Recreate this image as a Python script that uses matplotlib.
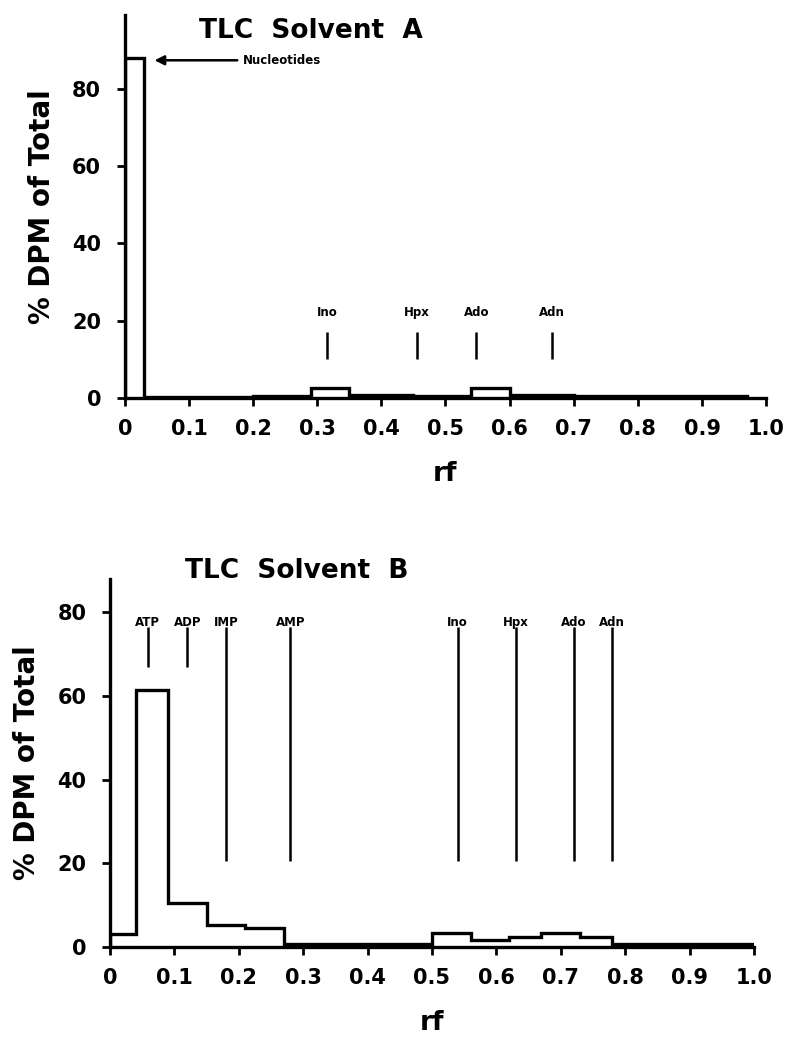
import numpy as np
import matplotlib
matplotlib.use("Agg")
import matplotlib.pyplot as plt

plt.rcParams['font.family'] = ['DejaVu Sans']
plt.rcParams['font.weight'] = 'bold'

# Solvent A histogram (rf bins, % DPM)
edges_a = [0, 0.03, 0.1, 0.2, 0.29, 0.35, 0.45, 0.54, 0.6, 0.7, 0.8, 0.9, 0.97]
dpm_a = [88, 0.3, 0.3, 0.6, 2.6, 0.7, 0.5, 2.6, 0.8, 0.5, 0.5, 0.5]
marks_a = ["Ino", "Hpx", "Ado", "Adn"]
marks_a_rf = [0.315, 0.456, 0.548, 0.666]

# Solvent B histogram
edges_b = [0, 0.04, 0.09, 0.15, 0.21, 0.27, 0.4, 0.5, 0.56, 0.62, 0.67, 0.73, 0.78, 0.9, 1.0]
dpm_b = [3.2, 61.5, 10.5, 5.3, 4.5, 0.6, 0.8, 3.3, 1.7, 2.3, 3.3, 2.4, 0.8, 0.7]
marks_b = ["ATP", "ADP", "IMP", "AMP", "Ino", "Hpx", "Ado", "Adn"]
marks_b_rf = [0.059, 0.12, 0.18, 0.28, 0.54, 0.63, 0.72, 0.78]
marks_b_low = [67, 67, 20.5, 20.5, 20.5, 20.5, 20.5, 20.5]

xticks = [0, 0.1, 0.2, 0.3, 0.4, 0.5, 0.6, 0.7, 0.8, 0.9, 1.0]
xticklabels = ["0", "0.1", "0.2", "0.3", "0.4", "0.5", "0.6", "0.7", "0.8", "0.9", "1.0"]
yticks = [0, 20, 40, 60, 80]

fig = plt.figure(figsize=(7.85, 10.59), dpi=100)
ax1 = fig.add_axes([0.159, 0.6242, 0.817, 0.3616])
ax2 = fig.add_axes([0.140, 0.1058, 0.8205, 0.3475])


def style(ax, ytop):
    ax.set_xlim(0, 1.0)
    ax.set_ylim(0, ytop)
    for s in ['top', 'right']:
        ax.spines[s].set_visible(False)
    for s in ['left', 'bottom']:
        ax.spines[s].set_linewidth(2.4)
    ax.set_xticks(xticks)
    ax.set_xticklabels(xticklabels)
    ax.set_yticks(yticks)
    ax.tick_params(direction='out', length=6, width=2, labelsize=15)
    ax.tick_params(axis='x', pad=9)
    ax.tick_params(axis='y', pad=11)
    ax.set_xlabel("rf", fontsize=19, fontweight='bold', labelpad=16)
    ax.set_ylabel("% DPM of Total", fontsize=20, fontweight='bold', labelpad=12)
    for lab in ax.get_xticklabels() + ax.get_yticklabels():
        lab.set_fontweight('bold')


# --- Solvent A ---
style(ax1, 99)
ax1.stairs(dpm_a, edges_a, color='black', linewidth=2.4, baseline=0)
ax1.text(0.29, 95, "TLC  Solvent  A", fontsize=19, fontweight='bold', ha='center', va='center')
ax1.annotate("Nucleotides", xy=(0.042, 87.3), xytext=(0.184, 87.3),
             fontsize=8.5, fontweight='bold', va='center',
             arrowprops=dict(arrowstyle='-|>', color='black', lw=1.8, mutation_scale=14))
for name, x in zip(marks_a, marks_a_rf):
    ax1.vlines(x, 10, 17, color='black', linewidth=1.8)
    ax1.text(x, 22, name, fontsize=8.5, fontweight='bold', ha='center', va='center')

# --- Solvent B ---
style(ax2, 88)
ax2.stairs(dpm_b, edges_b, color='black', linewidth=2.4, baseline=0)
ax2.text(0.29, 90, "TLC  Solvent  B", fontsize=19, fontweight='bold', ha='center', va='center')
for name, x, lo in zip(marks_b, marks_b_rf, marks_b_low):
    ax2.vlines(x, lo, 76.5, color='black', linewidth=1.8)
    ax2.text(x, 77.5, name, fontsize=8.5, fontweight='bold', ha='center', va='center')

fig.savefig("out.png", dpi=100)
